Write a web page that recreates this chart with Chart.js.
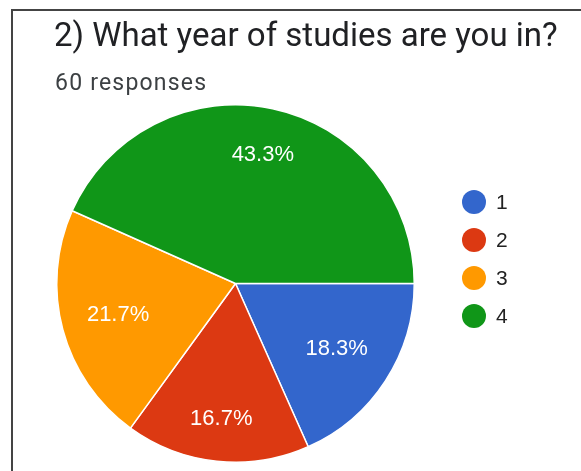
<!DOCTYPE html>
<html>
<head>
<meta charset="utf-8">
<script src="https://cdn.jsdelivr.net/npm/chart.js@4"></script>
<style>
  html, body { margin: 0; padding: 0; background: #fff; }
  #wrap { position: relative; width: 581px; height: 471px; overflow: hidden; }
  #card {
    position: absolute; left: 11px; top: 9px; right: -10px; bottom: -10px;
    border-top: 2px solid #444; border-left: 2px solid #444;
  }
  #title {
    position: absolute; left: 54px; top: 15px;
    font-family: Roboto, sans-serif; font-size: 33px; color: #202124; white-space: nowrap;
  }
  #subtitle {
    position: absolute; left: 55px; top: 69px;
    font-family: Roboto, sans-serif; font-size: 23px; letter-spacing: 1.2px; color: #3c4043; white-space: nowrap;
  }
  #myChart { position: absolute; left: 0; top: 0; }
</style>
</head>
<body>
<div id="wrap">
  <div id="card"></div>
  <canvas id="myChart" width="581" height="471"></canvas>
  <div id="title">2) What year of studies are you in?</div>
  <div id="subtitle">60 responses</div>
</div>
<script>
var labels = ['1', '2', '3', '4'];
var counts = [11, 10, 13, 26];
var colors = ['#3366cc', '#dc3912', '#ff9900', '#109618'];
// how far out each percentage sits, as a share of the radius
var labelRadius = [0.675, 0.76, 0.68, 0.735];

var ctx = document.getElementById('myChart').getContext('2d');

var pieLabels = {
  id: 'pieLabels',
  afterDatasetsDraw(chart) {
    var c = chart.ctx;
    var total = counts.reduce((a, b) => a + b, 0);
    var arcs = chart.getDatasetMeta(0).data;
    c.save();
    c.font = '22px "Liberation Sans", Arial, sans-serif';
    c.fillStyle = '#fff';
    c.textAlign = 'center';
    c.textBaseline = 'middle';
    arcs.forEach((arc, i) => {
      var p = arc.getProps(['x', 'y', 'startAngle', 'endAngle', 'outerRadius'], true);
      var mid = (p.startAngle + p.endAngle) / 2;
      var r = p.outerRadius * labelRadius[i];
      var text = (counts[i] / total * 100).toFixed(1) + '%';
      c.fillText(text, p.x + Math.cos(mid) * r, p.y + Math.sin(mid) * r);
    });
    c.restore();
  }
};

var sideLegend = {
  id: 'sideLegend',
  afterDraw(chart) {
    var c = chart.ctx;
    c.save();
    c.font = '21px "Liberation Sans", Arial, sans-serif';
    c.textBaseline = 'middle';
    labels.forEach((label, i) => {
      var y = 202 + i * 38;
      c.beginPath();
      c.arc(474, y, 12, 0, Math.PI * 2);
      c.fillStyle = colors[i];
      c.fill();
      c.fillStyle = '#222';
      c.fillText(label, 496, y + 1);
    });
    c.restore();
  }
};

var myPieChart = new Chart(ctx, {
  type: 'pie',
  data: {
    labels: labels,
    datasets: [{
      data: counts,
      backgroundColor: colors,
      borderColor: '#fff',
      borderWidth: 1.5
    }]
  },
  options: {
    responsive: false,
    animation: false,
    rotation: 90,
    layout: { padding: { left: 56, top: 104, right: 166, bottom: 8 } },
    plugins: {
      legend: { display: false },
      tooltip: { enabled: false }
    }
  },
  plugins: [pieLabels, sideLegend]
});
</script>
</body>
</html>
